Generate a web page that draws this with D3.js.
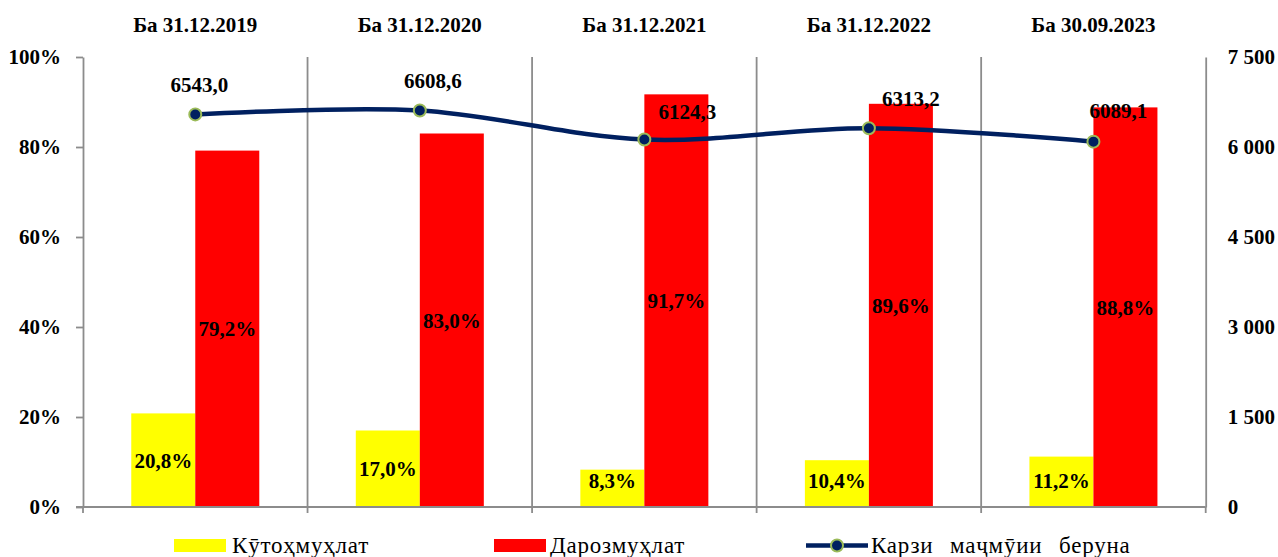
<!DOCTYPE html>
<html>
<head>
<meta charset="utf-8">
<script src="https://cdn.jsdelivr.net/npm/d3@7"></script>
<style>
  body { margin: 0; background: #fff; }
  svg text { font-family: "Liberation Serif", "DejaVu Serif", serif; fill: #000; }
</style>
</head>
<body>
<svg id="chart" width="1278" height="557"></svg>
<script>
// data
const categories = ["Ба 31.12.2019", "Ба 31.12.2020", "Ба 31.12.2021", "Ба 31.12.2022", "Ба 30.09.2023"]
const shortTerm = [20.8, 17.0, 8.3, 10.4, 11.2]
const longTerm = [79.2, 83.0, 91.7, 89.6, 88.8]
const totalLoans = [6543.0, 6608.6, 6124.3, 6313.2, 6089.1]
const leftTicks = [0, 20, 40, 60, 80, 100]
const rightTicks = [0, 1500, 3000, 4500, 6000, 7500]
const seriesNames = ["Кӯтоҳмуҳлат", "Дарозмуҳлат", "Карзи маҷмӯии беруна"]

// manual label nudges for the line labels (as placed in the original)
const lineLabelDx = [4, 13, 43, 42, 25]
const lineLabelDy = [-30, -30, -28, -30, -31]

const svg = d3.select("#chart")
const plotL = 83, plotR = 1205.7, plotT = 57, plotB = 507
const gridColor = "#8c8c8c"
const fs = 21
const fmtNum = d => d.toFixed(1).replace(".", ",")
const fmtPct = d => d.toFixed(1).replace(".", ",") + "%"

const x = d3.scaleBand().domain(categories).range([plotL, plotR])
const xSub = d3.scaleBand().domain(["s", "l"]).range([0, x.bandwidth()]).paddingOuter(0.754)
const yL = d3.scaleLinear().domain([0, 100]).range([plotB, plotT])
const yR = d3.scaleLinear().domain([0, 7500]).range([plotB, plotT])

// vertical separators between categories
const bounds = categories.slice(1).map(c => x(c))
svg.append("g").selectAll("line").data(bounds).enter().append("line")
  .attr("x1", d => d).attr("x2", d => d)
  .attr("y1", plotT).attr("y2", plotB + 6)
  .attr("stroke", gridColor).attr("stroke-width", 1.8)

// bars
const groups = svg.append("g").selectAll("g").data(categories).enter().append("g")
  .attr("transform", d => `translate(${x(d)},0)`)

groups.append("rect")
  .attr("x", xSub("s")).attr("width", xSub.bandwidth())
  .attr("y", (d, i) => yL(shortTerm[i]))
  .attr("height", (d, i) => plotB - yL(shortTerm[i]))
  .attr("fill", "#ffff00")

groups.append("rect")
  .attr("x", xSub("l")).attr("width", xSub.bandwidth())
  .attr("y", (d, i) => yL(longTerm[i]))
  .attr("height", (d, i) => plotB - yL(longTerm[i]))
  .attr("fill", "#ff0000")

groups.append("text")
  .attr("x", xSub("s") + xSub.bandwidth() / 2)
  .attr("y", (d, i) => Math.min((yL(shortTerm[i]) + plotB) / 2, plotB - 26))
  .attr("dy", "0.35em")
  .attr("text-anchor", "middle")
  .attr("font-size", fs).attr("font-weight", "bold")
  .text((d, i) => fmtPct(shortTerm[i]))

groups.append("text")
  .attr("x", xSub("l") + xSub.bandwidth() / 2)
  .attr("y", (d, i) => (yL(longTerm[i]) + plotB) / 2)
  .attr("dy", "0.35em")
  .attr("text-anchor", "middle")
  .attr("font-size", fs).attr("font-weight", "bold")
  .text((d, i) => fmtPct(longTerm[i]))

// left axis
const axL = svg.append("g").attr("transform", `translate(${plotL},0)`)
  .call(d3.axisLeft(yL).tickValues(leftTicks).tickFormat(d => d + "%").tickSize(7).tickSizeOuter(0).tickPadding(15))
axL.selectAll("path, line").attr("stroke", gridColor).attr("stroke-width", 1.8)
axL.selectAll("text").attr("font-size", fs).attr("font-weight", "bold")
  .attr("font-family", "Liberation Serif")

// right axis
const axR = svg.append("g").attr("transform", `translate(${plotR},0)`)
  .call(d3.axisRight(yR).tickValues(rightTicks).tickFormat(d => d3.format(",")(d).replace(",", " ")).tickSize(0).tickSizeOuter(0).tickPadding(22))
axR.selectAll("path, line").attr("stroke", gridColor).attr("stroke-width", 1.8)
axR.selectAll("text").attr("font-size", fs).attr("font-weight", "bold")
  .attr("font-family", "Liberation Serif")

// bottom axis line + ticks at category edges
svg.append("line")
  .attr("x1", plotL - 7).attr("x2", plotR)
  .attr("y1", plotB).attr("y2", plotB)
  .attr("stroke", gridColor).attr("stroke-width", 1.8)
svg.append("g").selectAll("line").data([plotL, plotR]).enter().append("line")
  .attr("x1", d => d).attr("x2", d => d)
  .attr("y1", plotB).attr("y2", plotB + 6)
  .attr("stroke", gridColor).attr("stroke-width", 1.8)

// category titles on top
svg.append("g").selectAll("text").data(categories).enter().append("text")
  .attr("x", d => x(d) + x.bandwidth() / 2)
  .attr("y", 25).attr("dy", "0.35em")
  .attr("text-anchor", "middle")
  .attr("font-size", fs).attr("font-weight", "bold")
  .text(d => d)

// line series
const cx = (d, i) => x(categories[i]) + x.bandwidth() / 2
const line = d3.line().x(cx).y(d => yR(d)).curve(d3.curveCardinal.tension(0))
svg.append("path").datum(totalLoans)
  .attr("d", line)
  .attr("fill", "none").attr("stroke", "#002060").attr("stroke-width", 4.5)

svg.append("g").selectAll("circle").data(totalLoans).enter().append("circle")
  .attr("cx", cx).attr("cy", d => yR(d)).attr("r", 6)
  .attr("fill", "#002060").attr("stroke", "#9bbb59").attr("stroke-width", 2)

svg.append("g").selectAll("text").data(totalLoans).enter().append("text")
  .attr("x", (d, i) => cx(d, i) + lineLabelDx[i])
  .attr("y", (d, i) => yR(d) + lineLabelDy[i])
  .attr("dy", "0.35em")
  .attr("text-anchor", "middle")
  .attr("font-size", fs).attr("font-weight", "bold")
  .text(d => fmtNum(d))

// legend
const leg = svg.append("g")
leg.append("rect").attr("x", 174).attr("y", 539).attr("width", 52).attr("height", 13).attr("fill", "#ffff00")
leg.append("text").attr("x", 232).attr("y", 553).attr("font-size", 23).attr("letter-spacing", 0.8).text(seriesNames[0])
leg.append("rect").attr("x", 494).attr("y", 539).attr("width", 52).attr("height", 13).attr("fill", "#ff0000")
leg.append("text").attr("x", 550).attr("y", 553).attr("font-size", 23).attr("letter-spacing", 0.8).text(seriesNames[1])
leg.append("line").attr("x1", 806).attr("x2", 868).attr("y1", 545.5).attr("y2", 545.5)
  .attr("stroke", "#002060").attr("stroke-width", 4.5)
leg.append("circle").attr("cx", 837).attr("cy", 545.5).attr("r", 6)
  .attr("fill", "#002060").attr("stroke", "#9bbb59").attr("stroke-width", 2)
leg.append("text").attr("x", 871).attr("y", 553).attr("font-size", 23).attr("letter-spacing", 0.8)
  .attr("word-spacing", 10).text(seriesNames[2])
</script>
</body>
</html>
